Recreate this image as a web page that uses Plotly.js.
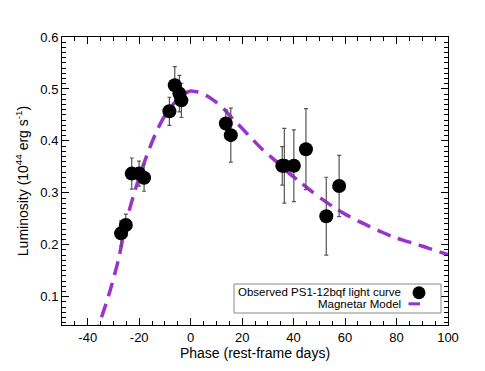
<!DOCTYPE html>
<html>
<head>
<meta charset="utf-8">
<script src="https://cdn.plot.ly/plotly-3.0.1.min.js"></script>
<style>html,body{margin:0;padding:0;background:#fff;}#chart{width:485px;height:371px;}</style>
</head>
<body>
<div id="chart"></div>
<script>
// Observed PS1-12bqf light curve
const obsPhase = [-27.05, -25.2, -22.9, -20.05, -18.1, -8.27, -6.17, -4.38, -3.6, 13.67, 15.6, 35.6, 36.4, 40.1, 44.8, 52.7, 57.7];
const obsLum   = [0.222, 0.238, 0.337, 0.337, 0.329, 0.457, 0.507, 0.491, 0.478, 0.4335, 0.411, 0.352, 0.352, 0.352, 0.384, 0.255, 0.313];
const obsErr   = [0.024, 0.021, 0.030, 0.024, 0.026, 0.027, 0.036, 0.035, 0.033, 0.026, 0.052, 0.037, 0.072, 0.069, 0.078, 0.075, 0.059];

// Magnetar model curve
const modelPhase = [-37, -35.6, -32.0, -28.1, -24.85, -21.6, -17.7, -13.9, -10.0, -6.0, -3.0, 0.0, 1.7, 3.5, 6.9, 10.0, 13.4, 15.3, 20.0, 24.4, 28.0, 33.4, 38.0, 42.5, 47.0, 51.6, 56.0, 60.7, 65.0, 69.7, 74.0, 78.8, 83.0, 87.9, 92.0, 96.3, 100.0];
const modelLum   = [0.02, 0.046, 0.100, 0.171, 0.2475, 0.305, 0.363, 0.411, 0.449, 0.475, 0.489, 0.496, 0.495, 0.493, 0.485, 0.474, 0.459, 0.448, 0.424, 0.401, 0.383, 0.360, 0.339, 0.321, 0.303, 0.286, 0.271, 0.257, 0.246, 0.235, 0.225, 0.215, 0.208, 0.201, 0.194, 0.187, 0.181];

const xTickVals = [-40, -20, 0, 20, 40, 60, 80, 100];
const yTickVals = [0.1, 0.2, 0.3, 0.4, 0.5, 0.6];

const legendLabels = ['Observed PS1-12bqf light curve', 'Magnetar Model'];

const purple = '#9A32CD';
const FONT = 'Liberation Sans, Arial, Helvetica, sans-serif';

const traces = [
  {
    x: modelPhase, y: modelLum, type: 'scatter', mode: 'lines',
    line: {color: purple, width: 3.5, dash: '14px,8px', shape: 'spline', smoothing: 0.8},
    showlegend: false, hoverinfo: 'skip'
  },
  {
    x: obsPhase, y: obsLum, type: 'scatter', mode: 'markers',
    marker: {color: 'black', size: 14, line: {width: 0}},
    error_y: {type: 'data', array: obsErr, visible: true, color: '#555555', thickness: 1.2, width: 2},
    showlegend: false
  }
];

const L = 62, R = 448, T = 36.7, B = 325;
const px = v => (v - L) / (R - L);
const py = v => (B - v) / (B - T);

const axisCommon = {
  showline: true, linecolor: 'black', linewidth: 1, mirror: 'allticks',
  ticks: 'inside', ticklen: 7, tickwidth: 1, tickcolor: 'black',
  showgrid: false, zeroline: false,
  tickfont: {family: FONT, size: 13, color: 'black'}
};

const layout = {
  width: 485, height: 371,
  paper_bgcolor: 'white', plot_bgcolor: 'white',
  margin: {l: L, r: 485 - R, t: T, b: 371 - B, pad: 0},
  font: {family: FONT, color: 'black'},
  xaxis: Object.assign({}, axisCommon, {
    range: [-50, 100], tickvals: xTickVals, ticktext: xTickVals.map(String),
    minor: {dtick: 5, tick0: 0, ticks: 'inside', ticklen: 4, tickcolor: 'black', tickwidth: 1, showgrid: false},
    title: {text: 'Phase (rest-frame days)', font: {family: FONT, size: 14, color: 'black'}, standoff: 4}
  }),
  yaxis: Object.assign({}, axisCommon, {
    range: [0.0455, 0.6], tickvals: yTickVals, ticktext: yTickVals.map(v => v.toFixed(1)),
    minor: {dtick: 0.01, tick0: 0, ticks: 'inside', ticklen: 4, tickcolor: 'black', tickwidth: 1, showgrid: false},
    title: {text: 'Luminosity (10<sup>44</sup> erg s<sup>-1</sup>)', font: {family: FONT, size: 14, color: 'black'}, standoff: 8}
  }),
  shapes: [
    {type: 'rect', xref: 'paper', yref: 'paper', x0: px(234), x1: px(441), y0: py(313), y1: py(284),
     line: {color: '#888888', width: 1}, fillcolor: 'white', layer: 'above'},
    {type: 'circle', xref: 'paper', yref: 'paper', xsizemode: 'pixel', ysizemode: 'pixel',
     xanchor: px(419), yanchor: py(292.7), x0: -6.5, x1: 6.5, y0: -6.5, y1: 6.5,
     fillcolor: 'black', line: {width: 0}, layer: 'above'},
    {type: 'line', xref: 'paper', yref: 'paper', x0: px(408.5), x1: px(420), y0: py(303.8), y1: py(303.8),
     line: {color: purple, width: 3}, layer: 'above'}
  ],
  annotations: [
    {xref: 'paper', yref: 'paper', x: px(402), y: py(292.2), xanchor: 'right', yanchor: 'middle',
     text: legendLabels[0], showarrow: false, borderpad: 0,
     font: {family: FONT, size: 11.5, color: 'black'}},
    {xref: 'paper', yref: 'paper', x: px(402), y: py(304.2), xanchor: 'right', yanchor: 'middle',
     text: legendLabels[1], showarrow: false, borderpad: 0,
     font: {family: FONT, size: 11.5, color: 'black'}}
  ]
};

Plotly.newPlot('chart', traces, layout, {displayModeBar: false, staticPlot: true});
</script>
</body>
</html>
